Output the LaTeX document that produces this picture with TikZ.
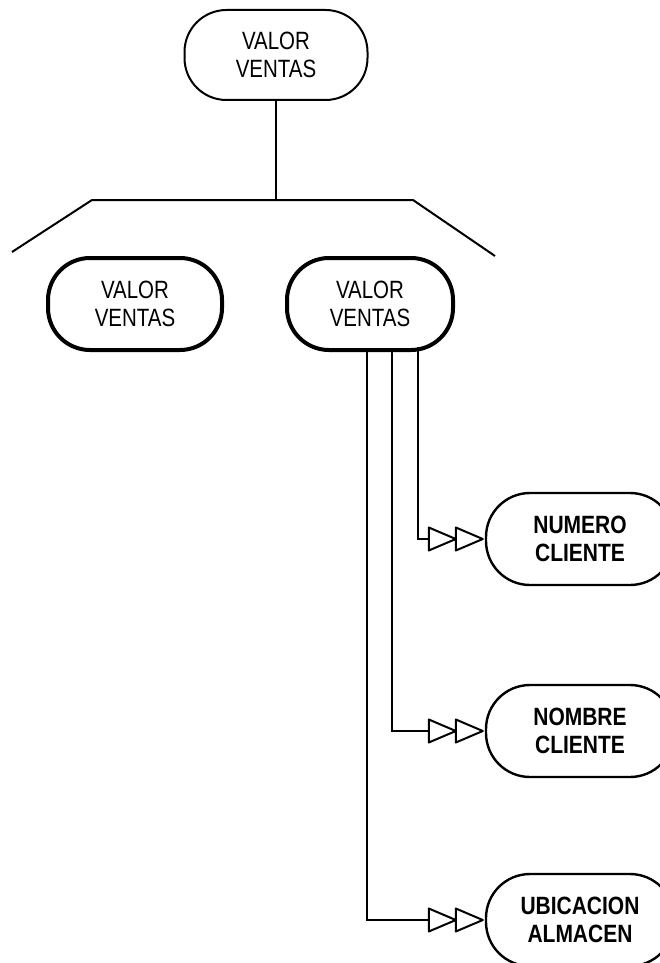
\documentclass[tikz,border=0pt]{standalone}
\usepackage{fontspec}
\newfontfamily\labfont{Liberation Sans}[FakeStretch=0.82]
\newfontfamily\leaffont{Liberation Sans}[FakeStretch=0.84]
\tikzset{
  lab/.style={font=\labfont\fontsize{25}{28}\selectfont, align=center},
  topbox/.style={lab, draw, line width=2pt, rounded corners=42pt, minimum width=183pt, minimum height=90pt, inner sep=0pt},
  midbox/.style={lab, draw, line width=4pt, rounded corners=42pt, minimum width=170pt, minimum height=92pt, inner sep=0pt},
  leafbox/.style={lab, font=\leaffont\bfseries\fontsize{25}{28}\selectfont, draw, line width=2.4pt, rounded corners=44pt, minimum width=188pt, minimum height=92pt, inner sep=0pt},
  conn/.style={line width=2pt},
  feed/.style={conn, shorten >=56pt},
  dbltri/.pic={
    \draw[line width=2pt, line join=round]
      (-56,-11.5) -- (-29,0) -- (-56,11.5) -- cycle
      (-29,-11.5) -- (-2,0) -- (-29,11.5) -- cycle;
  }
}
\begin{document}
\begin{tikzpicture}[x=1pt,y=-1pt]
\clip (0,0) rectangle (660,963);
\fill[white] (0,0) rectangle (660,963);

\node[topbox] (top) at (276,55) {VALOR\\VENTAS};
\node[midbox, minimum width=174pt] (vl) at (135,304) {VALOR\\VENTAS};
\node[midbox, minimum width=166pt] (vr) at (370,304) {VALOR\\VENTAS};
\node[leafbox] (num) at (580,539) {NUMERO\\CLIENTE};
\node[leafbox] (nom) at (580,731) {NOMBRE\\CLIENTE};
\node[leafbox] (ubi) at (580,920) {UBICACION\\ALMACEN};

\coordinate (ll) at (12,252);
\coordinate (bl) at (92,200);
\coordinate (br) at (413,200);
\coordinate (rr) at (495,256);

\draw[conn] (top.south) -- (top.south |- bl);
\draw[conn] (ll) -- (bl) -- (br) -- (rr);

\draw[feed] ([xshift=48pt,yshift=5pt]vr.south) |- (num.west);
\draw[feed] ([xshift=22pt]vr.south) |- (nom.west);
\draw[feed] ([xshift=-3pt]vr.south) |- (ubi.west);
\pic at (num.west) {dbltri};
\pic at (nom.west) {dbltri};
\pic at (ubi.west) {dbltri};
\end{tikzpicture}
\end{document}
